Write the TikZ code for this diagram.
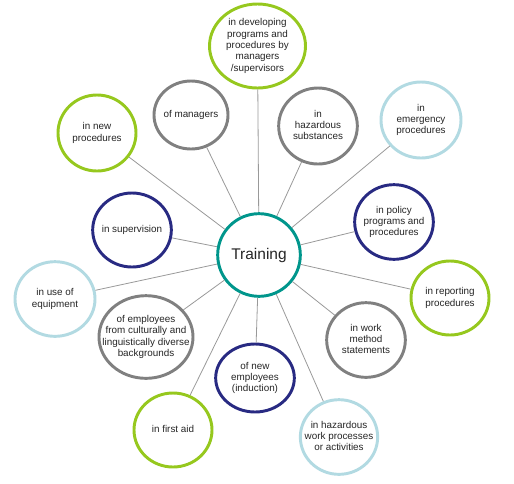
\documentclass[tikz,border=0pt]{standalone}
\usepackage{fontspec}
\setmainfont{Liberation Sans}
\usetikzlibrary{shapes.geometric}
\definecolor{lime}{RGB}{150,200,30}
\definecolor{navy}{RGB}{40,42,130}
\definecolor{stone}{RGB}{128,128,128}
\definecolor{sky}{RGB}{178,218,226}
\definecolor{teal}{RGB}{0,150,140}
% text that does not widen the ellipse round it
\newcommand\bubtext[1]{\smash{\makebox[0pt]{\raisebox{-1.9pt}{\begin{tabular}[c]{@{}c@{}}#1\end{tabular}}}}}
\tikzset{bubble/.style={ellipse, draw, line width=2.2pt, fill=white, inner sep=0pt,
    text=black!85, font=\fontsize{7.4}{8.6}\selectfont}}
\tikzset{link/.style={draw=black!40, line width=0.6pt}}

\begin{document}
\begin{tikzpicture}[x=0.75pt, y=-0.75pt]
    \useasboundingbox(0, 0)rectangle(514, 483);
    \node[bubble, draw=teal, minimum width=62pt, minimum height=62pt,
        font=\fontsize{11.6}{13}\selectfont](train)at(259, 255){Training};
    \node[bubble, draw=lime, minimum width=72pt, minimum height=63pt](dev)at(257.5, 46)
        {\bubtext{in developing\\programs and\\procedures by\\managers\\/supervisors}};
    \node[bubble, draw=stone, minimum width=55.5pt, minimum height=51pt](mgr)at(191, 115){\bubtext{of managers}};
    \node[bubble, draw=lime, minimum width=58.5pt, minimum height=57pt](newproc)at(97, 133){\bubtext{in new\\procedures}};
    \node[bubble, draw=navy, minimum width=59pt, minimum height=55.5pt](superv)at(132, 230){\bubtext{in supervision}};
    \node[bubble, draw=stone, minimum width=59pt, minimum height=57pt](hazsub)at(318, 126){\bubtext{in\\hazardous\\substances}};
    \node[bubble, draw=sky, minimum width=60pt, minimum height=57pt](emerg)at(421, 120){\bubtext{in\\emergency\\procedures}};
    \node[bubble, draw=navy, minimum width=59pt, minimum height=56pt](policy)at(394, 222){\bubtext{in policy\\programs and\\procedures}};
    \node[bubble, draw=sky, minimum width=60pt, minimum height=56pt](equip)at(55, 299){\bubtext{in use of\\equipment}};
    \node[bubble, draw=stone, minimum width=70.5pt, minimum height=62pt](cald)at(146, 337)
        {\bubtext{of employees\\from culturally and\\linguistically diverse\\backgrounds}};
    \node[bubble, draw=navy, minimum width=59pt, minimum height=51pt](induct)at(255, 378){\bubtext{of new\\employees\\(induction)}};
    \node[bubble, draw=lime, minimum width=58.5pt, minimum height=55.5pt](firstaid)at(173, 430){\bubtext{in first aid}};
    \node[bubble, draw=lime, minimum width=58.5pt, minimum height=55.5pt](report)at(450, 298){\bubtext{in reporting\\procedures}};
    \node[bubble, draw=stone, minimum width=59pt, minimum height=56pt](work)at(366, 340){\bubtext{in work\\method\\statements}};
    \node[bubble, draw=sky, minimum width=58pt, minimum height=56pt](hazwork)at(339, 437)
        {\bubtext{in hazardous\\work processes\\or activities}};
    \foreach \n in {dev, mgr, newproc, superv, hazsub, emerg, policy, equip,
        cald, induct, firstaid, report, work, hazwork}
        \draw[link](train)--(\n);
\end{tikzpicture}
\end{document}
